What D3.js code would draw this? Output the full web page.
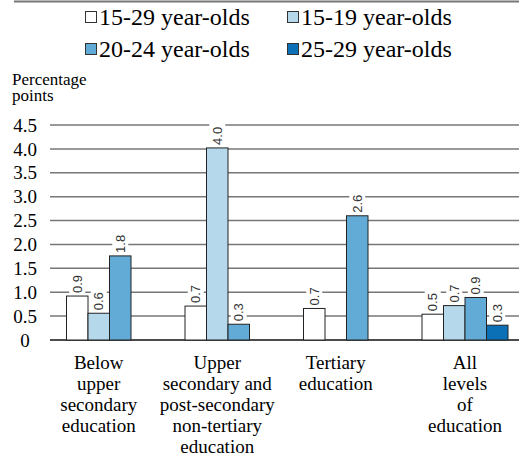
<!DOCTYPE html>
<meta charset="utf-8">
<script src="https://d3js.org/d3.v7.min.js"></script>
<div id="chart"></div>
<script>
// categories (one line per array item)
var categories = [
  ["Below", "upper", "secondary", "education"],
  ["Upper", "secondary and", "post-secondary", "non-tertiary", "education"],
  ["Tertiary", "education"],
  ["All", "levels", "of", "education"]
];
var seriesNames = ["15-29 year-olds", "15-19 year-olds", "20-24 year-olds", "25-29 year-olds"];
var colors = ["#ffffff", "#b5d8eb", "#62abd6", "#0b70b5"];

// values (null = no bar)
var age1529 = [0.92, 0.71, 0.66, 0.54];
var age1519 = [0.56, 4.02, null, 0.72];
var age2024 = [1.76, 0.33, 2.60, 0.89];
var age2529 = [null, null, null, 0.31];
var yTicks = [0, 0.5, 1.0, 1.5, 2.0, 2.5, 3.0, 3.5, 4.0, 4.5];

var allSeries = [age1529, age1519, age2024, age2529];

var width = 519, height = 456;
d3.select("body").style("margin", 0);
var svg = d3.select("#chart").append("svg")
  .attr("width", width).attr("height", height);

// top rule
svg.append("line")
  .attr("x1", 14).attr("x2", width).attr("y1", 1.5).attr("y2", 1.5)
  .attr("stroke", "#777").attr("stroke-width", 2);

// legend
var legend = svg.selectAll(".leg").data(seriesNames).enter().append("g")
  .attr("transform", function (d, i) {
    return "translate(" + (i % 2 == 0 ? 85 : 287) + "," + (i < 2 ? 17 : 49) + ")";
  });
legend.append("rect")
  .attr("x", 0.5).attr("y", -5.5).attr("width", 11).attr("height", 11)
  .attr("fill", function (d, i) { return colors[i]; })
  .attr("stroke", "#333");
legend.append("text")
  .attr("font-family", "Liberation Serif").attr("font-size", 24)
  .attr("x", 14).attr("y", 8)
  .text(function (d) { return d; });

// axis title
svg.append("text").attr("font-family", "Liberation Serif").attr("font-size", 17)
  .attr("x", 12).attr("y", 85).text("Percentage");
svg.append("text").attr("font-family", "Liberation Serif").attr("font-size", 17)
  .attr("x", 12).attr("y", 101).text("points");

// scales
var y = d3.scaleLinear().domain([0, 4.5]).range([340, 125]);
var x0 = d3.scaleBand().domain(d3.range(categories.length)).range([50, 524]);
var x1 = d3.scaleBand().domain(d3.range(seriesNames.length)).range([16.5, 102.5]);

// gridlines + tick labels
var grid = svg.append("g");
grid.selectAll("line").data(yTicks).enter().append("line")
  .attr("x1", 50).attr("x2", width)
  .attr("y1", function (d) { return y(d); }).attr("y2", function (d) { return y(d); })
  .attr("stroke", function (d) { return d == 0 ? "#111" : "#777"; })
  .attr("stroke-width", 1.5);
grid.selectAll("text").data(yTicks).enter().append("text")
  .attr("font-family", "Liberation Serif").attr("font-size", 19)
  .attr("x", 25).attr("y", function (d) { return y(d); })
  .attr("dy", "0.35em")
  .attr("text-anchor", "middle")
  .text(function (d) { return d == 0 ? "0" : d3.format(".1f")(d); });

// bars
var bars = [];
allSeries.forEach(function (s, si) {
  s.forEach(function (v, ci) {
    if (v != null) bars.push({ s: si, c: ci, v: v });
  });
});

svg.append("g").selectAll("rect").data(bars).enter().append("rect")
  .attr("x", function (d) { return x0(d.c) + x1(d.s); })
  .attr("y", function (d) { return y(d.v); })
  .attr("width", x1.bandwidth())
  .attr("height", function (d) { return y(0) - y(d.v); })
  .attr("fill", function (d) { return colors[d.s]; })
  .attr("stroke", "#222").attr("stroke-width", 1);

// value labels, rotated with white background
var lab = svg.append("g").selectAll("g").data(bars).enter().append("g")
  .attr("transform", function (d) {
    return "translate(" + (x0(d.c) + x1(d.s) + x1.bandwidth() / 2) + "," + (y(d.v) - 3) + ") rotate(-90)";
  });
lab.append("rect").attr("fill", "#fff")
  .attr("x", -1).attr("y", -8).attr("width", 22).attr("height", 16);
lab.append("text")
  .attr("font-family", "Liberation Sans").attr("font-size", 13).attr("fill", "#333")
  .attr("x", 0).attr("dy", "0.35em")
  .text(function (d) { return d3.format(".1f")(d.v); });

// category labels centred under the filled slots, one text per line
categories.forEach(function (lines, ci) {
  var used = allSeries.map(function (s, si) { return s[ci] != null ? si : -1; })
    .filter(function (si) { return si >= 0; });
  var last = d3.max(used);
  var cx = x0(ci) + (x1(0) + x1(last) + x1.bandwidth()) / 2;
  svg.append("g").selectAll("text").data(lines).enter().append("text")
    .attr("font-family", "Liberation Serif").attr("font-size", 19)
    .attr("text-anchor", "middle")
    .attr("x", cx)
    .attr("y", function (d, i) { return 369 + i * 21; })
    .text(function (d) { return d; });
});
</script>
